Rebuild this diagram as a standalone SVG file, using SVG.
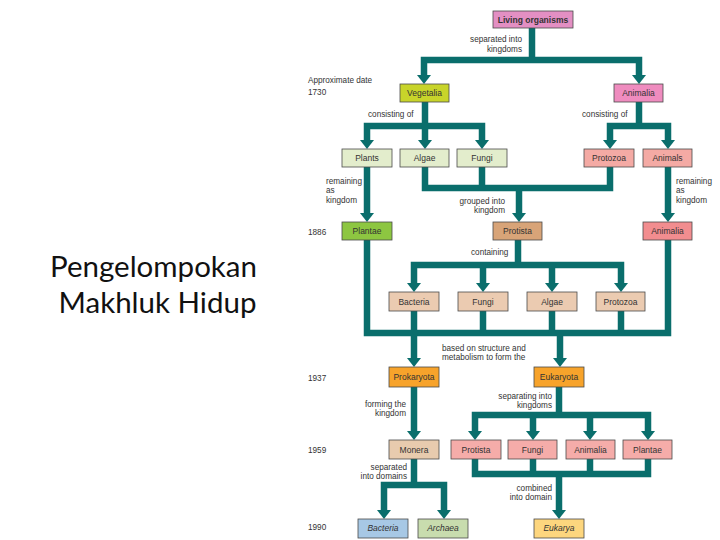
<svg xmlns="http://www.w3.org/2000/svg" width="720" height="540" viewBox="0 0 720 540">
<style>
.bx{stroke:#4a4a4a;stroke-width:0.8}
.lb{font-family:"Liberation Sans",Arial,sans-serif;font-size:8.5px;fill:#333;text-anchor:middle}
.an{font-family:"Liberation Sans",Arial,sans-serif;font-size:8.2px;fill:#333}
.r{text-anchor:end}
.c{fill:none;stroke:#0a6e6c;stroke-width:6.5;stroke-linejoin:miter;stroke-linecap:butt}
.a{marker-end:url(#ah)}
.ab{marker-start:url(#ah);marker-end:url(#ah)}
.t{font-family:Lato,"Open Sans",sans-serif;font-size:29.5px;fill:#111;text-anchor:middle}
</style>
<defs>
<marker id="ah" markerUnits="userSpaceOnUse" markerWidth="9" markerHeight="14" viewBox="0 0 9 14" refX="0.5" refY="7" orient="auto-start-reverse">
<path d="M0,0 L9,7 L0,14 Z" fill="#0a6e6c"/>
</marker>
</defs>
<rect width="720" height="540" fill="#fff"/>

<g id="title">
<text class="t" x="153.5" y="277">Pengelompokan</text>
<text class="t" x="157.5" y="313">Makhluk Hidup</text>
</g>

<g id="connectors">
<path class="c" d="M532,28 V60"/>
<path class="c ab" d="M424,75.5 V60 H639 V75.5"/>
<path class="c" d="M425,102 V126"/>
<path class="c ab" d="M367,140.5 V126 H482 V140.5"/>
<path class="c a" d="M425,126 V140.5"/>
<path class="c" d="M639,102 V126"/>
<path class="c ab" d="M610,140.5 V126 H668 V140.5"/>
<path class="c a" d="M367,167 V213.5"/>
<path class="c a" d="M668,167 V213.5"/>
<path class="c" d="M425,167 V188 H610 V167"/>
<path class="c" d="M482,167 V188"/>
<path class="c a" d="M519,188 V213.5"/>
<path class="c" d="M518,240 V265"/>
<path class="c ab" d="M414,283.5 V265 H621 V283.5"/>
<path class="c a" d="M483,265 V283.5"/>
<path class="c a" d="M552,265 V283.5"/>
<path class="c" d="M367,240 V333 H668 V240"/>
<path class="c" d="M414,311 V333"/>
<path class="c" d="M483,311 V333"/>
<path class="c" d="M552,311 V333"/>
<path class="c" d="M621,311 V333"/>
<path class="c a" d="M414,333 V358.5"/>
<path class="c a" d="M560,333 V358.5"/>
<path class="c a" d="M414,387 V431.5"/>
<path class="c" d="M559,387 V415"/>
<path class="c ab" d="M475,431.5 V415 H648 V431.5"/>
<path class="c a" d="M533,415 V431.5"/>
<path class="c a" d="M590,415 V431.5"/>
<path class="c" d="M475,459 V474 H648 V459"/>
<path class="c" d="M533,459 V474"/>
<path class="c" d="M590,459 V474"/>
<path class="c a" d="M559,474 V510.5"/>
<path class="c" d="M414,459 V485"/>
<path class="c ab" d="M384,510.5 V485 H444 V510.5"/>
</g>

<g id="annotations">
<text class="an r" x="522" y="42">separated into</text>
<text class="an r" x="522" y="52">kingdoms</text>
<text class="an" x="308" y="83">Approximate date</text>
<text class="an" x="308" y="95">1730</text>
<text class="an" x="368" y="117">consisting of</text>
<text class="an" x="582" y="117">consisting of</text>
<text class="an" x="326" y="184">remaining</text>
<text class="an" x="326" y="193">as</text>
<text class="an" x="326" y="203">kingdom</text>
<text class="an" x="676" y="184">remaining</text>
<text class="an" x="676" y="193">as</text>
<text class="an" x="676" y="203">kingdom</text>
<text class="an r" x="505" y="204">grouped into</text>
<text class="an r" x="505" y="213">kingdom</text>
<text class="an" x="308" y="235">1886</text>
<text class="an" x="471" y="255">containing</text>
<text class="an" x="442" y="351">based on structure and</text>
<text class="an" x="442" y="360">metabolism to form the</text>
<text class="an" x="308" y="381">1937</text>
<text class="an r" x="406" y="407">forming the</text>
<text class="an r" x="406" y="416">kingdom</text>
<text class="an r" x="552" y="399">separating into</text>
<text class="an r" x="552" y="408">kingdoms</text>
<text class="an" x="308" y="453">1959</text>
<text class="an r" x="407" y="470">separated</text>
<text class="an r" x="407" y="479">into domains</text>
<text class="an r" x="552" y="491">combined</text>
<text class="an r" x="552" y="500">into domain</text>
<text class="an" x="308" y="530">1990</text>
</g>

<g id="n-living"><rect class="bx" x="493" y="11" width="80" height="17" fill="#e38fc3"/><text class="lb" x="533" y="22.5" font-weight="bold">Living organisms</text></g>
<g id="n-vegetalia"><rect class="bx" x="400" y="84" width="49" height="18" fill="#c8d42a"/><text class="lb" x="424.5" y="96">Vegetalia</text></g>
<g id="n-animalia1730"><rect class="bx" x="614" y="84" width="49" height="18" fill="#ef8cbf"/><text class="lb" x="638.5" y="96">Animalia</text></g>
<g id="n-plants"><rect class="bx" x="342" y="149" width="50" height="18" fill="#e3edcc"/><text class="lb" x="367" y="161">Plants</text></g>
<g id="n-algae1"><rect class="bx" x="400" y="149" width="49" height="18" fill="#e3edcc"/><text class="lb" x="424.5" y="161">Algae</text></g>
<g id="n-fungi1"><rect class="bx" x="457" y="149" width="50" height="18" fill="#e3edcc"/><text class="lb" x="482" y="161">Fungi</text></g>
<g id="n-protozoa1"><rect class="bx" x="584" y="149" width="50" height="18" fill="#f4aaa4"/><text class="lb" x="609" y="161">Protozoa</text></g>
<g id="n-animals"><rect class="bx" x="643" y="149" width="49" height="18" fill="#f4aaa4"/><text class="lb" x="667.5" y="161">Animals</text></g>
<g id="n-plantae1886"><rect class="bx" x="342" y="222" width="50" height="18" fill="#8dc641"/><text class="lb" x="367" y="234">Plantae</text></g>
<g id="n-protista1886"><rect class="bx" x="493" y="222" width="49" height="18" fill="#d8a478"/><text class="lb" x="517.5" y="234">Protista</text></g>
<g id="n-animalia1886"><rect class="bx" x="643" y="222" width="49" height="18" fill="#f28d8f"/><text class="lb" x="667.5" y="234">Animalia</text></g>
<g id="n-bacteria1"><rect class="bx" x="389" y="292" width="50" height="19" fill="#ebcbb1"/><text class="lb" x="414" y="304.5">Bacteria</text></g>
<g id="n-fungi2"><rect class="bx" x="458" y="292" width="50" height="19" fill="#ebcbb1"/><text class="lb" x="483" y="304.5">Fungi</text></g>
<g id="n-algae2"><rect class="bx" x="527" y="292" width="50" height="19" fill="#ebcbb1"/><text class="lb" x="552" y="304.5">Algae</text></g>
<g id="n-protozoa2"><rect class="bx" x="596" y="292" width="49" height="19" fill="#ebcbb1"/><text class="lb" x="620.5" y="304.5">Protozoa</text></g>
<g id="n-prokaryota"><rect class="bx" x="389" y="367" width="50" height="20" fill="#f7a32b"/><text class="lb" x="414" y="380">Prokaryota</text></g>
<g id="n-eukaryota"><rect class="bx" x="534" y="367" width="50" height="20" fill="#f7a32b"/><text class="lb" x="559" y="380">Eukaryota</text></g>
<g id="n-monera"><rect class="bx" x="389" y="440" width="50" height="19" fill="#e8cbae"/><text class="lb" x="414" y="452.5">Monera</text></g>
<g id="n-protista1959"><rect class="bx" x="451" y="440" width="50" height="19" fill="#f5aca9"/><text class="lb" x="476" y="452.5">Protista</text></g>
<g id="n-fungi1959"><rect class="bx" x="508" y="440" width="49" height="19" fill="#f5aca9"/><text class="lb" x="532.5" y="452.5">Fungi</text></g>
<g id="n-animalia1959"><rect class="bx" x="566" y="440" width="49" height="19" fill="#f5aca9"/><text class="lb" x="590.5" y="452.5">Animalia</text></g>
<g id="n-plantae1959"><rect class="bx" x="623" y="440" width="49" height="19" fill="#f5aca9"/><text class="lb" x="647.5" y="452.5">Plantae</text></g>
<g id="n-bacteria"><rect class="bx" x="358" y="519" width="50" height="19" fill="#a7c8e5"/><text class="lb" x="383" y="531" font-style="italic">Bacteria</text></g>
<g id="n-archaea"><rect class="bx" x="418" y="519" width="50" height="19" fill="#c8dcae"/><text class="lb" x="443" y="531" font-style="italic">Archaea</text></g>
<g id="n-eukarya"><rect class="bx" x="534" y="519" width="50" height="19" fill="#fdd67e"/><text class="lb" x="559" y="531" font-style="italic">Eukarya</text></g>
</svg>
